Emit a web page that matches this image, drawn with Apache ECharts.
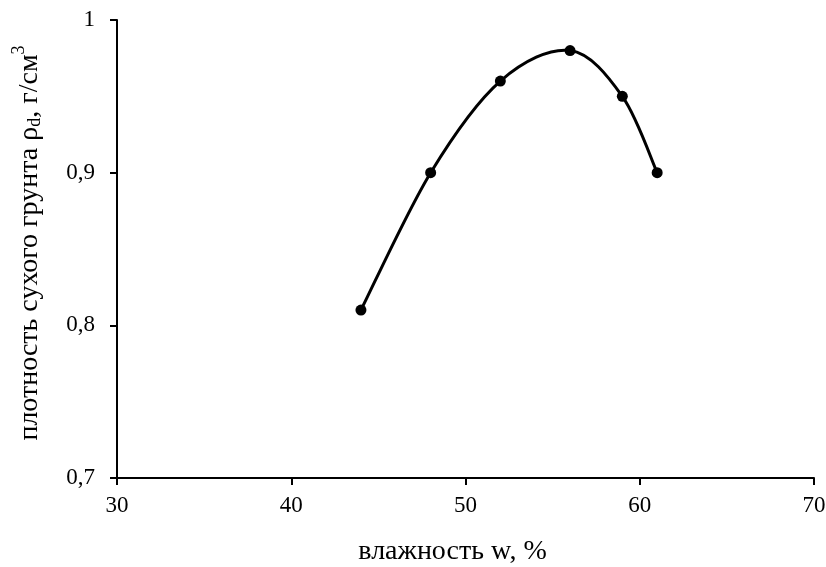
<!DOCTYPE html>
<html>
<head>
<meta charset="utf-8">
<script src="https://cdn.jsdelivr.net/npm/echarts@6/dist/echarts.min.js"></script>
<style>
  html, body { margin: 0; padding: 0; background: #fff; }
  #chart { width: 826px; height: 567px; }
</style>
</head>
<body>
<div id="chart"></div>
<script>
// Compaction test: moisture content vs. dry density
const moisture = [44, 48, 52, 56, 59, 61];               // влажность w, %
const dryDensity = [0.81, 0.90, 0.96, 0.98, 0.95, 0.90]; // ρd, г/см³

const xTicks = { min: 30, max: 70, step: 10 };
const yTicks = { min: 0.7, max: 1, step: 0.1 };

const xTitle = 'влажность w, %';
const yTitleParts = ['плотность сухого грунта ρ', 'd', ', г/см', '3'];

const FONT = '"Liberation Serif", "Times New Roman", serif';

const points = moisture.map((x, i) => [x, dryDensity[i]]);

const chart = echarts.init(document.getElementById('chart'), null, { renderer: 'canvas' });

const axisLine = { show: true, lineStyle: { color: '#000', width: 2 } };
const axisTick = { show: true, inside: false, length: 7, lineStyle: { color: '#000', width: 2 } };

// Smooth curve through the points (Catmull-Rom style cubic Béziers,
// computed in pixel space from the axis coordinates).
function renderCurve(params, api) {
  if (params.dataIndex !== 0) return null;
  const px = points.map(p => api.coord(p));
  const n = px.length;
  let d = 'M' + px[0][0] + ' ' + px[0][1];
  for (let i = 0; i < n - 1; i++) {
    const p0 = px[Math.max(i - 1, 0)];
    const p1 = px[i];
    const p2 = px[i + 1];
    const p3 = px[Math.min(i + 2, n - 1)];
    const c1 = [p1[0] + (p2[0] - p0[0]) / 6, p1[1] + (p2[1] - p0[1]) / 6];
    const c2 = [p2[0] - (p3[0] - p1[0]) / 6, p2[1] - (p3[1] - p1[1]) / 6];
    d += ' C' + c1[0] + ' ' + c1[1] + ' ' + c2[0] + ' ' + c2[1] + ' ' + p2[0] + ' ' + p2[1];
  }
  return {
    type: 'path',
    shape: { pathData: d },
    style: { fill: null, stroke: '#000', lineWidth: 3, lineJoin: 'round', lineCap: 'round' },
    silent: true
  };
}

chart.setOption({
  animation: false,
  backgroundColor: '#fff',
  grid: {
    left: 117, right: 12, top: 20, bottom: 89,
    containLabel: false,
    outerBoundsMode: 'none'
  },
  xAxis: {
    type: 'value',
    min: xTicks.min, max: xTicks.max, interval: xTicks.step,
    axisLine, axisTick,
    splitLine: { show: false },
    axisLabel: { color: '#000', fontFamily: FONT, fontSize: 23, margin: 16 },
    name: xTitle,
    nameLocation: 'middle',
    nameGap: 60,
    nameTextStyle: { color: '#000', fontFamily: FONT, fontSize: 28, padding: [0, 26, 0, 0] }
  },
  yAxis: {
    type: 'value',
    min: yTicks.min, max: yTicks.max, interval: yTicks.step,
    axisLine, axisTick,
    splitLine: { show: false },
    axisLabel: {
      color: '#000', fontFamily: FONT, fontSize: 23, margin: 22,
      formatter: v => String(Math.round(v * 10) / 10).replace('.', ',')
    },
    name: '{t|' + yTitleParts[0] + '}{sub|' + yTitleParts[1] + '}{t|' + yTitleParts[2] + '}{sup|' + yTitleParts[3] + '}',
    nameLocation: 'middle',
    nameRotate: 90,
    nameGap: 73,
    nameTextStyle: {
      color: '#000', fontFamily: FONT, fontSize: 28,
      padding: [0, 0, 0, 12],
      rich: {
        t: { color: '#000', fontFamily: FONT, fontSize: 28, verticalAlign: 'bottom', lineHeight: 34 },
        sub: { color: '#000', fontFamily: FONT, fontSize: 18, verticalAlign: 'bottom', lineHeight: 30 },
        sup: { color: '#000', fontFamily: FONT, fontSize: 18, verticalAlign: 'top', lineHeight: 34 }
      }
    }
  },
  series: [
    {
      type: 'custom',
      data: points,
      renderItem: renderCurve,
      encode: { x: 0, y: 1 },
      clip: false,
      z: 2
    },
    {
      type: 'scatter',
      data: points,
      symbol: 'circle',
      symbolSize: 11,
      itemStyle: { color: '#000', opacity: 1 },
      z: 3
    }
  ]
});
</script>
</body>
</html>
